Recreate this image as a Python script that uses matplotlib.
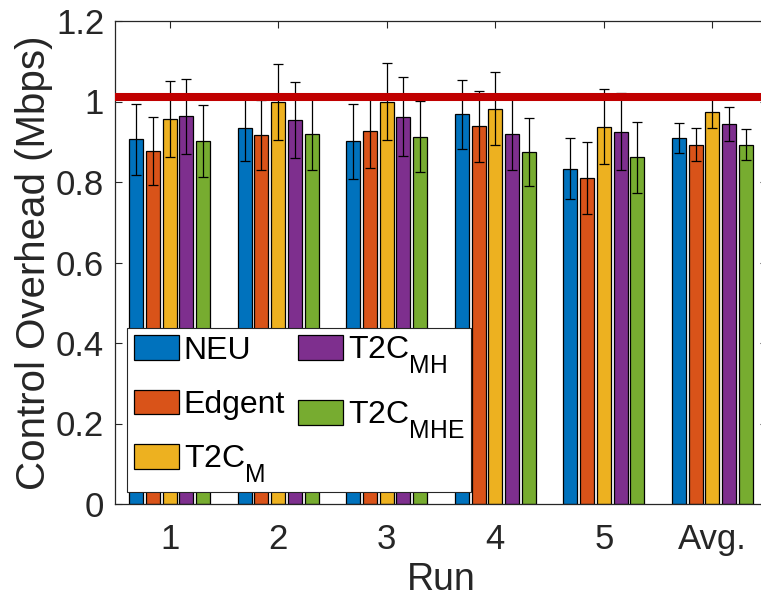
import numpy as np
import matplotlib
matplotlib.use("Agg")
import matplotlib.pyplot as plt
from matplotlib import _mathtext

# Larger, lower subscripts for the scheme names
_mathtext.SHRINK_FACTOR = 0.77
_mathtext.FontConstantsBase.sub1 = 0.9

# Control overhead per run (Mbps) and standard deviations
runs = ["1", "2", "3", "4", "5", "Avg."]
schemes = ["NEU", "Edgent", "T2C$_{\\mathrm{M}}$", "T2C$_{\\mathrm{MH}}$", "T2C$_{\\mathrm{MHE}}$"]

neu = [0.906, 0.935, 0.901, 0.968, 0.833, 0.909]
edgent = [0.877, 0.916, 0.927, 0.938, 0.810, 0.893]
t2c_m = [0.957, 0.998, 1.000, 0.982, 0.937, 0.974]
t2c_mh = [0.963, 0.954, 0.962, 0.920, 0.925, 0.945]
t2c_mhe = [0.902, 0.919, 0.913, 0.874, 0.861, 0.893]

neu_err = [0.089, 0.083, 0.094, 0.085, 0.076, 0.038]
edgent_err = [0.085, 0.087, 0.092, 0.088, 0.089, 0.040]
t2c_m_err = [0.095, 0.094, 0.095, 0.091, 0.093, 0.040]
t2c_mh_err = [0.093, 0.094, 0.098, 0.090, 0.095, 0.042]
t2c_mhe_err = [0.090, 0.088, 0.088, 0.085, 0.089, 0.039]

capacity = 1.01

values = [neu, edgent, t2c_m, t2c_mh, t2c_mhe]
errors = [neu_err, edgent_err, t2c_m_err, t2c_mh_err, t2c_mhe_err]
colors = ["#0072BD", "#D95319", "#EDB120", "#7E2F8E", "#77AC30"]

plt.rcParams["font.family"] = ["Liberation Sans", "DejaVu Sans"]
plt.rcParams["mathtext.fontset"] = "custom"
plt.rcParams["mathtext.rm"] = "Liberation Sans"
plt.rcParams["mathtext.it"] = "Liberation Sans:italic"
plt.rcParams["mathtext.bf"] = "Liberation Sans:bold"

W, H = 761, 601
fig = plt.figure(figsize=(W / 100, H / 100), dpi=100)
ax = fig.add_axes([115.3 / W, 1 - 504 / H, (766.7 - 115.3) / W, (504 - 21) / H])

x = np.arange(1, len(runs) + 1)
step = 0.154
width = 0.129
dark = "#262626"
handles = []
for i, (vals, errs, c) in enumerate(zip(values, errors, colors)):
    pos = x + (i - 2) * step
    b = ax.bar(pos, vals, width, color=c, edgecolor="black", linewidth=0.9,
               label=schemes[i], zorder=2)
    handles.append(b)
    ax.errorbar(pos, vals, yerr=errs, fmt="none", ecolor="black",
                elinewidth=0.9, capsize=3.3, capthick=0.9, zorder=3)

ax.axhline(capacity, color="#C00000", linewidth=5.8, zorder=4)

ax.set_xlim(0.5, 6.5)
ax.set_ylim(0, 1.2)
ax.set_xticks(x)
ax.set_xticklabels(runs)
ax.set_yticks([0, 0.2, 0.4, 0.6, 0.8, 1.0, 1.2])
ax.set_yticklabels(["0", "0.2", "0.4", "0.6", "0.8", "1", "1.2"])
ax.tick_params(direction="in", length=5, width=0.8, colors=dark,
               labelsize=25, top=True, right=True)
ax.tick_params(axis="x", pad=14)
ax.tick_params(axis="y", pad=8)
for s in ax.spines.values():
    s.set_color(dark)
    s.set_linewidth(0.9)

ax.set_xlabel("Run", fontsize=27, color=dark, labelpad=4)
ax.set_ylabel("Control Overhead (Mbps)", fontsize=29, color=dark, labelpad=2)

leg = ax.legend(handles=handles, ncol=2, loc="lower left",
                bbox_to_anchor=(127 / W, 1 - 492 / H), bbox_transform=fig.transFigure,
                borderaxespad=0, fontsize=23, frameon=True, fancybox=False,
                framealpha=1, handlelength=1.41, handleheight=0.82,
                handletextpad=0.15, columnspacing=0.4, labelspacing=0.74,
                borderpad=0.22)
leg.get_frame().set_edgecolor(dark)
leg.get_frame().set_linewidth(0.8)
leg.set_zorder(5)

fig.savefig("out.png", dpi=100)
